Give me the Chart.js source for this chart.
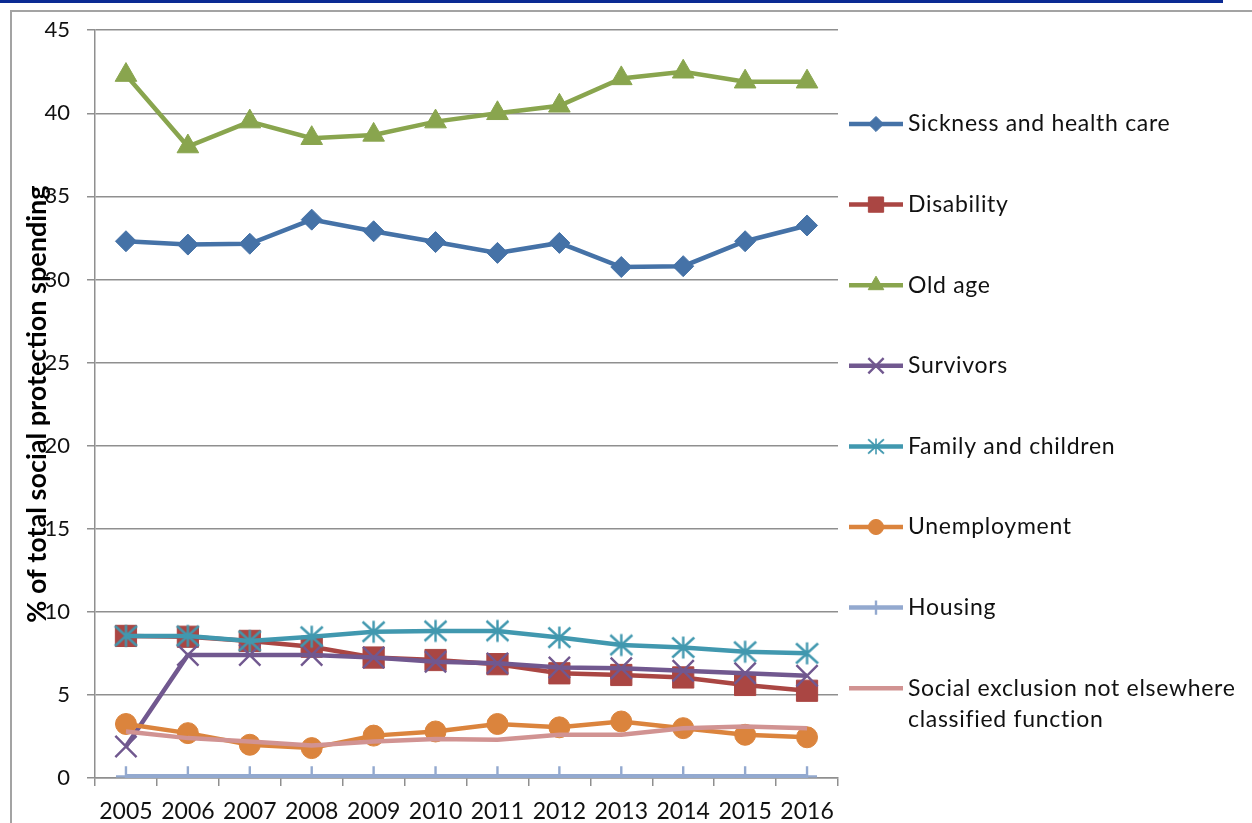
<!DOCTYPE html>
<html>
<head>
<meta charset="utf-8">
<script src="https://cdn.jsdelivr.net/npm/chart.js"></script>
<style>
  html, body { margin: 0; padding: 0; background: #fff; overflow: hidden; }
  #topBar { position: absolute; left: 0; top: 0; width: 1223px; height: 3px; background: #0b2a93; }
  #frame { position: absolute; left: 10px; top: 10px; width: 1400px; height: 1000px; border: 2px solid #a3a3a3; }
  #wrap { position: absolute; left: 0; top: 0; width: 1252px; height: 823px; }
</style>
</head>
<body>
<div id="topBar"></div>
<div id="frame"></div>
<div id="wrap"><canvas id="spendingChart" width="1252" height="823"></canvas></div>
<script>
// --- Share of social protection spending by function, 2005-2016 ---

const years = ['2005', '2006', '2007', '2008', '2009', '2010', '2011', '2012', '2013', '2014', '2015', '2016'];

const sickness     = [32.3, 32.1, 32.15, 33.6, 32.9, 32.25, 31.6, 32.2, 30.75, 30.8, 32.3, 33.25];
const disability   = [8.55, 8.5, 8.25, 7.9, 7.25, 7.1, 6.85, 6.3, 6.2, 6.05, 5.6, 5.25];
const oldAge       = [42.3, 38.0, 39.5, 38.5, 38.7, 39.5, 40.0, 40.45, 42.1, 42.5, 41.9, 41.9];
const survivors    = [1.9, 7.4, 7.4, 7.4, 7.25, 7.0, 6.9, 6.65, 6.6, 6.45, 6.3, 6.15];
const family       = [8.55, 8.55, 8.25, 8.5, 8.8, 8.85, 8.85, 8.45, 8.0, 7.85, 7.6, 7.5];
const unemployment = [3.25, 2.7, 2.0, 1.8, 2.55, 2.8, 3.25, 3.05, 3.4, 3.0, 2.6, 2.45];
const housing      = [0.1, 0.1, 0.1, 0.1, 0.1, 0.1, 0.1, 0.1, 0.1, 0.1, 0.1, 0.1];
const socialExcl   = [2.8, 2.4, 2.2, 1.95, 2.2, 2.35, 2.3, 2.6, 2.6, 3.0, 3.1, 3.0];

const seriesNames = [
    'Sickness and health care',
    'Disability',
    'Old age',
    'Survivors',
    'Family and children',
    'Unemployment',
    'Housing',
    ['Social exclusion not elsewhere', 'classified function']
];

const yMin = 0, yMax = 45, yStep = 5;
const yAxisTitle = '% of total social protection spending';

const FONT = 'Lato, "Open Sans", sans-serif';
const GRID = '#8f8f8f';

// Excel-style asterisk marker (X with a vertical bar), drawn once on a small canvas
function makeStar(color, size) {
    const c = document.createElement('canvas');
    c.width = size; c.height = size;
    const g = c.getContext('2d');
    const m = 1.5, h = size / 2;
    g.strokeStyle = color;
    g.lineWidth = 2.4;
    g.lineCap = 'butt';
    g.beginPath();
    g.moveTo(h, m); g.lineTo(h, size - m);
    g.moveTo(m, m + 1); g.lineTo(size - m, size - m - 1);
    g.moveTo(size - m, m + 1); g.lineTo(m, size - m - 1);
    g.stroke();
    return c;
}

const starMarker = makeStar('#4198af', 25);

function line(label, data, color, style, radius, extra) {
    return Object.assign({
        label: label,
        data: data,
        borderColor: color,
        backgroundColor: color,
        borderWidth: 4.5,
        pointStyle: style,
        pointRadius: radius,
        pointHoverRadius: radius,
        pointBackgroundColor: color,
        pointBorderColor: color,
        pointBorderWidth: 1,
        tension: 0,
        fill: false
    }, extra || {});
}

const datasets = [
    line(seriesNames[0], sickness, '#4572a7', 'rectRot', 10.5),
    line(seriesNames[1], disability, '#aa4643', 'rect', 15),
    line(seriesNames[2], oldAge, '#89a54e', 'triangle', 12.5),
    line(seriesNames[3], survivors, '#71588f', 'crossRot', 15, { pointBorderWidth: 2.4 }),
    line(seriesNames[4], family, '#4198af', starMarker, 12),
    line(seriesNames[5], unemployment, '#db843d', 'circle', 10.5),
    line(seriesNames[6], housing, '#93a9cf', 'cross', 10, { pointBorderWidth: 2.4 }),
    line(seriesNames[7], socialExcl, '#d19392', 'circle', 0)
];
// later series sit on top, like the spreadsheet version
datasets.forEach((ds, i) => { ds.order = datasets.length - i; });

// --- Legend down the right side: line sample + marker + label ---
const sideLegend = {
    id: 'sideLegend',
    afterDraw(chart, args, opts) {
        const ctx = chart.ctx;
        const helpers = Chart.helpers || {};
        ctx.save();
        ctx.font = opts.fontSize + 'px ' + FONT;
        ctx.textBaseline = 'middle';
        ctx.textAlign = 'left';
        chart.data.datasets.forEach((ds, i) => {
            const y = opts.top + i * opts.rowGap;
            // line sample
            ctx.strokeStyle = ds.borderColor;
            ctx.lineWidth = ds.borderWidth;
            ctx.beginPath();
            ctx.moveTo(opts.x, y);
            ctx.lineTo(opts.x + opts.sampleWidth, y);
            ctx.stroke();
            // marker
            const cx = opts.x + opts.sampleWidth / 2;
            if (ds.pointRadius > 0) {
                if (ds.pointStyle instanceof HTMLCanvasElement) {
                    const s = ds.pointStyle.width * opts.markerScale;
                    ctx.drawImage(ds.pointStyle, cx - s / 2, y - s / 2, s, s);
                } else if (helpers.drawPoint) {
                    ctx.fillStyle = ds.pointBackgroundColor;
                    ctx.strokeStyle = ds.pointBorderColor;
                    ctx.lineWidth = ds.pointBorderWidth;
                    helpers.drawPoint(ctx, {
                        pointStyle: ds.pointStyle,
                        radius: ds.pointRadius * opts.markerScale,
                        rotation: 0,
                        borderWidth: ds.pointBorderWidth
                    }, cx, y);
                }
            }
            // label (may run over two lines)
            ctx.fillStyle = '#111';
            if ('letterSpacing' in ctx) ctx.letterSpacing = opts.letterSpacing;
            const lines = Array.isArray(ds.label) ? ds.label : [ds.label];
            lines.forEach((t, k) => {
                ctx.fillText(t, opts.x + opts.sampleWidth + opts.textGap, y + k * opts.lineHeight);
            });
            if ('letterSpacing' in ctx) ctx.letterSpacing = '0px';
        });
        ctx.restore();
    }
};

new Chart(document.getElementById('spendingChart'), {
    type: 'line',
    data: { labels: years, datasets: datasets },
    plugins: [sideLegend],
    options: {
        responsive: false,
        animation: false,
        devicePixelRatio: 1,
        layout: { padding: { left: 0, top: 27, right: 414, bottom: 0 } },
        plugins: {
            legend: { display: false },
            tooltip: { enabled: false },
            sideLegend: {
                x: 849, top: 124, rowGap: 80.6, sampleWidth: 54, textGap: 5,
                fontSize: 23, lineHeight: 31, markerScale: 0.72, letterSpacing: '0.7px'
            }
        },
        scales: {
            x: {
                type: 'category',
                offset: true,
                grid: { offset: true, drawOnChartArea: false, drawTicks: true, tickLength: 8, color: GRID, lineWidth: 1.5 },
                border: { color: GRID, width: 1.5 },
                ticks: { color: '#111', padding: 12, font: { family: FONT, size: 23 }, maxRotation: 0, autoSkip: false },
                afterFit(scale) { scale.height = 45; }
            },
            y: {
                min: yMin,
                max: yMax,
                grid: { color: GRID, lineWidth: 1.5, drawTicks: true, tickLength: 8 },
                border: { color: GRID, width: 1.5 },
                ticks: { stepSize: yStep, color: '#111', padding: 17, font: { family: FONT, size: 22 } },
                title: {
                    display: true,
                    text: yAxisTitle,
                    color: '#000',
                    font: { family: FONT, size: 27, weight: 'bold' },
                    padding: { top: 21, bottom: 0 }
                },
                afterFit(scale) { scale.width = 95; }
            }
        }
    }
});
</script>
</body>
</html>
